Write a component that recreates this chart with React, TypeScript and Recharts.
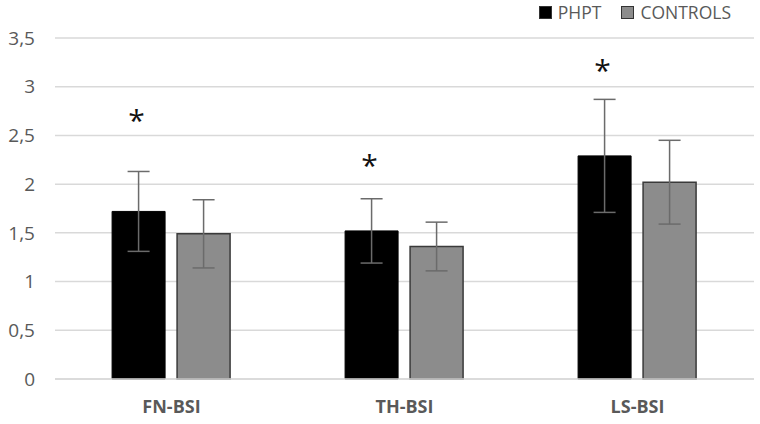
import { Bar, BarChart, CartesianGrid, ErrorBar, LabelList, XAxis, YAxis } from "recharts";

const categories = ["FN-BSI", "TH-BSI", "LS-BSI"];
const phpt = [1.72, 1.52, 2.29];
const phptSd = [0.41, 0.33, 0.58];
const controls = [1.49, 1.36, 2.02];
const controlsSd = [0.35, 0.25, 0.43];
// level of the significance asterisk above each PHPT bar
const starLevel = [2.7, 2.24, 3.22];
const yTicks = [0, 0.5, 1, 1.5, 2, 2.5, 3, 3.5];
const legendItems = ["PHPT", "CONTROLS"];
const legendFills = ["#000", "#8c8c8c"];

const chartData = categories.map((name, i) => ({
  name,
  phpt: phpt[i],
  phptSd: phptSd[i],
  controls: controls[i],
  controlsSd: controlsSd[i],
  star: starLevel[i]
}));

const FONT = "'Open Sans', sans-serif";
const GREY_TEXT = "#595959";

function Star(props: any) {
  const { x, y, width, height, index } = props;
  const pxPerUnit = height / phpt[index];
  const cy = y + height - starLevel[index] * pxPerUnit;
  return (
    <text x={x + width / 2 - 2} y={cy + 4} textAnchor="middle" dominantBaseline="central" fontSize={30} fill="#111" fontFamily={FONT}>
      *
    </text>
  );
}

function LegendBox() {
  return (
    <div style={{ position: "absolute", top: 0, right: 29, display: "flex", gap: 20, fontFamily: FONT, fontSize: 17.5, color: GREY_TEXT }}>
      {legendItems.map((label, i) => (
        <div key={label} style={{ display: "flex", alignItems: "center", gap: 6 }}>
          <span style={{ width: 11, height: 11, background: legendFills[i], border: "1px solid #333", display: "inline-block" }} />
          <span>{label}</span>
        </div>
      ))}
    </div>
  );
}

export default function App() {
  return (
    <div style={{ position: "absolute", left: 0, top: 0, width: 760, height: 424, background: "#fff" }}>
      <BarChart
        width={760}
        height={424}
        data={chartData}
        margin={{ top: 38, right: 6, bottom: 0, left: 0 }}
        barCategoryGap="24.5%"
        barGap={12}
      >
        <CartesianGrid vertical={false} stroke="#d9d9d9" strokeWidth={1.5} />
        <XAxis
          dataKey="name"
          height={45}
          axisLine={{ stroke: "#d9d9d9", strokeWidth: 1.5 }}
          tickLine={false}
          tickSize={0}
          tickMargin={21}
          tick={{ fontSize: 18, fontWeight: 700, fill: GREY_TEXT, fontFamily: FONT }}
        />
        <YAxis
          width={55}
          domain={[0, 3.5]}
          ticks={yTicks}
          axisLine={false}
          tickLine={false}
          tickSize={0}
          tickMargin={20}
          tickFormatter={(v: number) => String(v).replace(".", ",")}
          tick={{ fontSize: 19, fill: GREY_TEXT, fontFamily: FONT }}
        />
        <Bar dataKey="phpt" name="PHPT" fill="#000" stroke="#000" isAnimationActive={false}>
          <ErrorBar dataKey="phptSd" width={11} stroke="#6b6b6b" strokeWidth={1.5} />
          <LabelList dataKey="star" content={<Star />} />
        </Bar>
        <Bar dataKey="controls" name="CONTROLS" fill="#8c8c8c" stroke="#3a3a3a" strokeWidth={1.5} isAnimationActive={false}>
          <ErrorBar dataKey="controlsSd" width={11} stroke="#6b6b6b" strokeWidth={1.5} />
        </Bar>
      </BarChart>
      <LegendBox />
    </div>
  );
}
